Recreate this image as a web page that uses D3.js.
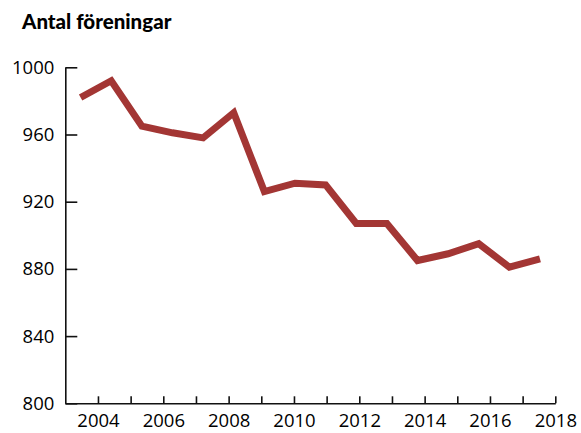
<!DOCTYPE html>
<html>
<head>
<meta charset="utf-8">
<script src="https://cdn.jsdelivr.net/npm/d3@7"></script>
<style>
  body { margin: 0; background: #fff; }
  svg { display: block; }
  .axis text { font-family: "Open Sans", sans-serif; font-size: 18.5px; fill: #000; }
  .axis path, .axis line { stroke: #111; stroke-width: 1.6px; }
</style>
</head>
<body>
<svg width="581" height="433"></svg>
<script>
var years = [2003, 2004, 2005, 2006, 2007, 2008, 2009, 2010, 2011, 2012, 2013, 2014, 2015, 2016, 2017, 2018];
var foreningar = [982, 992, 965, 961, 958, 973, 926, 931, 930, 907, 907, 885, 889, 895, 881, 886];
var yTicks = [800, 840, 880, 920, 960, 1000];
var xTicks = [2004, 2005, 2006, 2007, 2008, 2009, 2010, 2011, 2012, 2013, 2014, 2015, 2016, 2017, 2018];

var svg = d3.select("svg");
var mLeft = 65.3, mRight = 555.3, mTop = 67.3, mBottom = 403.3;

var y = d3.scaleLinear().domain([800, 1000]).range([mBottom, mTop]);
// axis runs 2003-2018, the line itself sits in year bands
var x = d3.scaleLinear().domain([2003, 2018]).range([mLeft, mRight]);
var band = d3.scaleBand().domain(years).range([mLeft, mRight]);

svg.append("text")
    .attr("x", 22)
    .attr("y", 29)
    .style("font-family", "Lato, sans-serif")
    .style("font-weight", 900)
    .style("font-size", "20.5px")
    .style("fill", "#000")
    .text("Antal föreningar");

svg.append("g")
    .attr("class", "axis")
    .attr("transform", "translate(" + mLeft + ",0)")
    .call(d3.axisLeft(y).tickValues(yTicks).tickSize(-12).tickSizeOuter(0).tickPadding(11)
        .tickFormat(d3.format("d")));

svg.append("g")
    .attr("class", "axis")
    .attr("transform", "translate(0," + mBottom + ")")
    .call(d3.axisBottom(x).tickValues(xTicks).tickSize(-7).tickSizeOuter(0).tickPadding(11)
        .tickFormat(function(d) { return d % 2 == 0 ? d : ""; }));

var line = d3.line()
    .x(function(d, i) { return band(years[i]) + band.bandwidth() / 2; })
    .y(function(d) { return y(d); });

svg.append("path")
    .datum(foreningar)
    .attr("fill", "none")
    .attr("stroke", "#a33634")
    .attr("stroke-width", 7)
    .attr("stroke-linejoin", "miter")
    .attr("d", line);
</script>
</body>
</html>
